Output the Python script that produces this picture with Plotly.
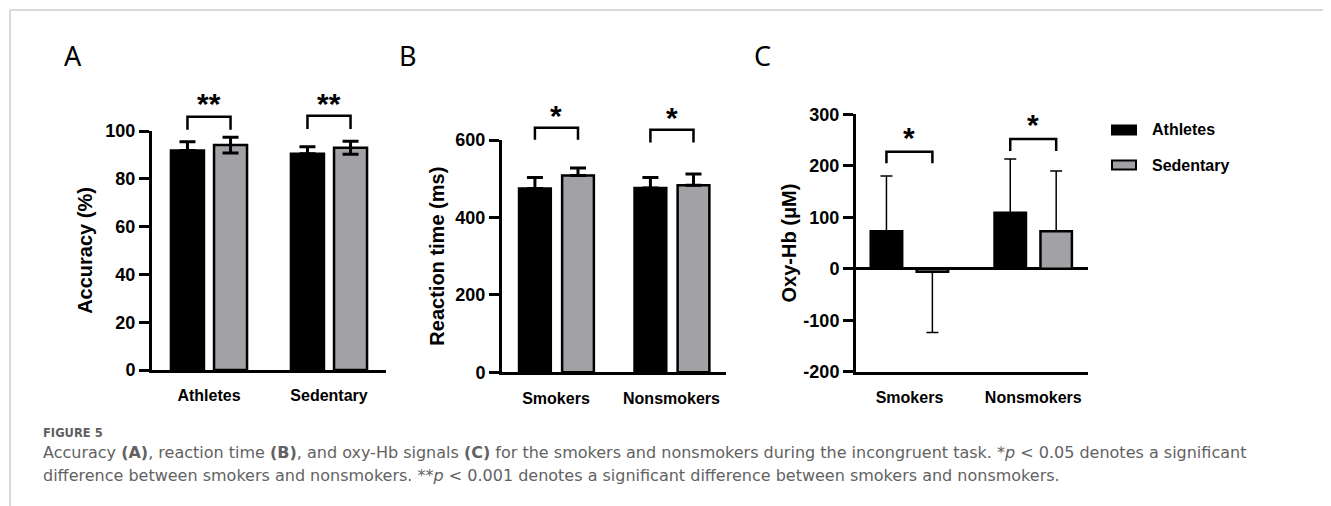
import plotly.graph_objects as go

W, H = 1331, 506
OFF = 8  # page body margin of the browser shifts the figure by this many px

# ---------------- data ----------------
series_names = ["Athletes", "Sedentary"]

acc_categories = ["Athletes", "Sedentary"]
acc_athletes = [91.8, 90.5]
acc_athletes_err = [3.7, 2.9]
acc_sedentary = [94.1, 93.0]
acc_sedentary_err = [3.3, 2.7]
acc_ticks = [0, 20, 40, 60, 80, 100]
acc_sig = ["**", "**"]

rt_categories = ["Smokers", "Nonsmokers"]
rt_athletes = [475, 476]
rt_athletes_err = [28, 27]
rt_sedentary = [508, 483]
rt_sedentary_err = [20, 29]
rt_ticks = [0, 200, 400, 600]
rt_sig = ["*", "*"]

hb_categories = ["Smokers", "Nonsmokers"]
hb_athletes = [73, 109]
hb_athletes_err = [107, 104]
hb_sedentary = [-6, 73]
hb_sedentary_err = [118, 117]
hb_ticks = [-200, -100, 0, 100, 200, 300]
hb_sig = ["*", "*"]

panel_letters = ["A", "B", "C"]
y_titles = ["Accuracy (%)", "Reaction time (ms)", "Oxy-Hb (\u03bcM)"]

caption_head = "FIGURE 5"
caption_lines = [
    "Accuracy <b>(A)</b>, reaction time <b>(B)</b>, and oxy-Hb signals <b>(C)</b> for the smokers and nonsmokers during the incongruent task. *<i>p</i> &lt; 0.05 denotes a significant",
    "difference between smokers and nonsmokers. **<i>p</i> &lt; 0.001 denotes a significant difference between smokers and nonsmokers.",
]

# ---------------- styling / layout config ----------------
BLACK = "#000000"
GRAY = "#a2a2a6"
FONT = "Liberation Sans, Arial, sans-serif"
CAP_FONT = "DejaVu Sans, Open Sans, sans-serif"

panels = [
    dict(cats=acc_categories, a=acc_athletes, ae=acc_athletes_err, s=acc_sedentary, se=acc_sedentary_err,
         s_both=True, ticks=acc_ticks, yr=[0, 100], xpx=(152, 386), ypx=(370, 131), xr=[-0.475, 1.475],
         off_a=-0.317, off_s=0.042, bw=0.275, eth=3, ew=8, sig=acc_sig, standoff=8,
         br=[(100.5, 106.0), (100.8, 106.4)], star=[111.5, 111.5], letter_px=(73, 55)),
    dict(cats=rt_categories, a=rt_athletes, ae=rt_athletes_err, s=rt_sedentary, se=rt_sedentary_err,
         s_both=False, ticks=rt_ticks, yr=[0, 600], xpx=(502, 726), ypx=(372.3, 140), xr=[-0.4675, 1.472],
         off_a=-0.32, off_s=0.053, bw=0.275, eth=3, ew=8, sig=rt_sig, standoff=6,
         br=[(600.7, 631.8), (593.8, 626.6)], star=[663, 659], letter_px=(408, 55)),
    dict(cats=hb_categories, a=hb_athletes, ae=hb_athletes_err, s=hb_sedentary, se=hb_sedentary_err,
         s_both=False, ticks=hb_ticks, yr=[-200, 300], xpx=(856, 1088), ypx=(371.7, 114.3), xr=[-0.432, 1.442],
         off_a=-0.313, off_s=0.058, bw=0.254, eth=1.5, ew=6, sig=hb_sig, standoff=2,
         br=[(204.8, 227.3), (228.7, 252.0)], star=[255, 280], letter_px=(762, 55)),
]


def pxx(x):
    return (x - OFF) / W


def pxy(y):
    return 1 - (y - OFF) / H


def py(p, v):
    y0 = pxy(p["ypx"][0])
    y1 = pxy(p["ypx"][1])
    return y0 + (v - p["yr"][0]) / (p["yr"][1] - p["yr"][0]) * (y1 - y0)


fig = go.Figure()
shapes = []
annotations = []

for k, p in enumerate(panels):
    n = k + 1
    xa = "x" if n == 1 else f"x{n}"
    ya = "y" if n == 1 else f"y{n}"
    xs = list(range(len(p["cats"])))

    plus_a = [e if v >= 0 else 0 for v, e in zip(p["a"], p["ae"])]
    minus_a = [0 if v >= 0 else e for v, e in zip(p["a"], p["ae"])]
    fig.add_trace(go.Bar(
        x=xs, y=p["a"], name=series_names[0], xaxis=xa, yaxis=ya,
        offset=p["off_a"], width=p["bw"],
        marker=dict(color=BLACK, line=dict(color=BLACK, width=2.5)),
        error_y=dict(type="data", symmetric=False, array=plus_a, arrayminus=minus_a,
                     color=BLACK, thickness=p["eth"], width=p["ew"]),
        showlegend=False,
    ))
    if p["s_both"]:
        err_s = dict(type="data", symmetric=True, array=p["se"], color=BLACK,
                     thickness=p["eth"], width=p["ew"])
    else:
        plus_s = [e if v >= 0 else 0 for v, e in zip(p["s"], p["se"])]
        minus_s = [0 if v >= 0 else e for v, e in zip(p["s"], p["se"])]
        err_s = dict(type="data", symmetric=False, array=plus_s, arrayminus=minus_s,
                     color=BLACK, thickness=p["eth"], width=p["ew"])
    fig.add_trace(go.Bar(
        x=xs, y=p["s"], name=series_names[1], xaxis=xa, yaxis=ya,
        offset=p["off_s"], width=p["bw"],
        marker=dict(color=GRAY, line=dict(color=BLACK, width=2.5)),
        error_y=err_s, showlegend=False,
    ))

    xdom = [pxx(p["xpx"][0]), pxx(p["xpx"][1])]
    ydom = [pxy(p["ypx"][0]), pxy(p["ypx"][1])]
    xkey = "xaxis" if n == 1 else f"xaxis{n}"
    ykey = "yaxis" if n == 1 else f"yaxis{n}"
    fig.layout[xkey] = dict(
        domain=xdom, anchor=ya, range=p["xr"], tickvals=xs, ticktext=p["cats"],
        showline=True, linecolor=BLACK, linewidth=3, showgrid=False, zeroline=False,
        ticks="outside", ticklen=9, tickcolor="rgba(0,0,0,0)", automargin=False,
        tickfont=dict(family=FONT, size=16, color=BLACK, weight="bold"), fixedrange=True,
    )
    fig.layout[ykey] = dict(
        domain=ydom, anchor=xa, range=p["yr"], tickvals=p["ticks"],
        ticktext=[str(t) for t in p["ticks"]],
        showline=True, linecolor=BLACK, linewidth=3, showgrid=False,
        zeroline=(p["yr"][0] < 0), zerolinecolor=BLACK, zerolinewidth=3,
        ticks="outside", ticklen=10, tickwidth=3, tickcolor=BLACK, automargin=False,
        tickfont=dict(family=FONT, size=18, color=BLACK, weight="bold"),
        title=dict(text=y_titles[k], standoff=p["standoff"],
                   font=dict(family=FONT, size=20, color=BLACK, weight="bold")),
        fixedrange=True,
    )

    for i in xs:
        ca = i + p["off_a"] + p["bw"] / 2
        cs = i + p["off_s"] + p["bw"] / 2
        lo, hi = p["br"][i]
        shapes.append(dict(
            type="path", xref=xa, yref="paper",
            path=f"M {ca},{py(p, lo)} L {ca},{py(p, hi)} L {cs},{py(p, hi)} L {cs},{py(p, lo)}",
            line=dict(color=BLACK, width=2.5),
        ))
        annotations.append(dict(
            x=(ca + cs) / 2, y=py(p, p["star"][i]), xref=xa, yref="paper",
            text=p["sig"][i], showarrow=False, xanchor="center", yanchor="middle",
            font=dict(family=FONT, size=30, color=BLACK, weight="bold"),
        ))

    lx, ly = p["letter_px"]
    annotations.append(dict(
        x=pxx(lx), y=pxy(ly), xref="paper", yref="paper", text=panel_letters[k],
        showarrow=False, xanchor="center", yanchor="middle",
        font=dict(family="Noto Sans, Open Sans, sans-serif", size=27, color=BLACK),
    ))

# legend (manual)
legend_items = [(series_names[0], BLACK, 130), (series_names[1], GRAY, 165)]
for name, col, yc in legend_items:
    shapes.append(dict(
        type="rect", xref="paper", yref="paper",
        x0=pxx(1112), x1=pxx(1136), y0=pxy(yc + 4.5), y1=pxy(yc - 4.5),
        fillcolor=col, line=dict(color=BLACK, width=2),
    ))
    annotations.append(dict(
        x=pxx(1150), y=pxy(yc), xref="paper", yref="paper", text=name, showarrow=False,
        xanchor="left", yanchor="middle",
        font=dict(family=FONT, size=16, color=BLACK, weight="bold"),
    ))

# caption
annotations.append(dict(
    x=pxx(41), y=pxy(433), xref="paper", yref="paper", text=caption_head, showarrow=False,
    xanchor="left", yanchor="middle",
    font=dict(family=CAP_FONT, size=11.5, color="#5f5f5f", weight="bold"),
))
for j, line in enumerate(caption_lines):
    annotations.append(dict(
        x=pxx(41), y=pxy(452 + 23.5 * j), xref="paper", yref="paper", text=line, showarrow=False,
        xanchor="left", yanchor="middle",
        font=dict(family=CAP_FONT, size=16, color="#626262"),
    ))

# frame
shapes.append(dict(type="line", xref="paper", yref="paper", x0=pxx(10), x1=1, y0=pxy(10), y1=pxy(10),
                   line=dict(color="#d9d9d9", width=2)))
shapes.append(dict(type="line", xref="paper", yref="paper", x0=pxx(10), x1=pxx(10), y0=0, y1=pxy(10),
                   line=dict(color="#d9d9d9", width=2)))

fig.update_layout(
    width=W, height=H, margin=dict(l=0, r=0, t=0, b=0, autoexpand=False),
    paper_bgcolor="white", plot_bgcolor="white",
    barmode="overlay", shapes=shapes, annotations=annotations, showlegend=False,
)

fig.write_html("out.html", config={"displayModeBar": False})
